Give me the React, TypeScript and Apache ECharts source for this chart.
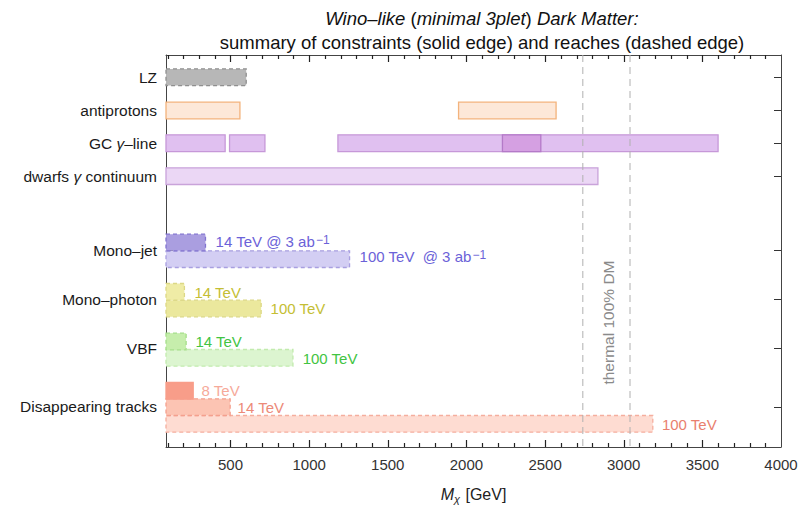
import React, { useEffect, useRef } from "react";
import * as echarts from "echarts";

const FONT = "'Liberation Sans', Arial, sans-serif";
const X_MIN = 90;
const X_MAX = 4000;
const Y_MAX = 12;
const BAR_H = 0.51;

const rowNames = [
  "LZ",
  "antiprotons",
  "GC {i|γ}–line",
  "dwarfs {i|γ} continuum",
  "Mono–jet",
  "Mono–photon",
  "VBF",
  "Disappearing tracks",
];
const rowPositions = [0.68, 1.7, 2.7, 3.71, 5.99, 7.47, 8.98, 10.77];

const majorTicks = [500, 1000, 1500, 2000, 2500, 3000, 3500, 4000];
const minorTicks: number[] = [];
for (let v = 100; v < X_MAX; v += 100) if (v % 500 !== 0) minorTicks.push(v);

const thermalLines = [2740, 3040];

// [start, end, y-level] in GeV
const lzBars = [[0, 600, 0.68]];
const antiprotonBars = [[0, 560, 1.7], [1950, 2570, 1.7]];
const gcLineBars = [[0, 466, 2.7], [494, 719, 2.7], [1183, 3600, 2.7]];
const gcLineOverlap = [[2229, 2473, 2.7]];
const dwarfBars = [[0, 2836, 3.71]];
const monoJet14 = [[0, 341, 5.74]];
const monoJet100 = [[0, 1257, 6.25]];
const monoPhoton14 = [[0, 207, 7.25]];
const monoPhoton100 = [[0, 695, 7.76]];
const vbf14 = [[0, 218, 8.77]];
const vbf100 = [[0, 897, 9.27]];
const dt8 = [[0, 263, 10.28]];
const dt14 = [[0, 498, 10.78]];
const dt100 = [[0, 3185, 11.29]];

type St = { fill: string; stroke: string; dash: boolean };
const groups: [number[][], St][] = [
  [lzBars, { fill: "#b7b7b7", stroke: "#8f8f8f", dash: true }],
  [antiprotonBars, { fill: "#fde8d8", stroke: "#f3b37c", dash: false }],
  [gcLineBars, { fill: "#e0c0f0", stroke: "#c698d8", dash: false }],
  [gcLineOverlap, { fill: "#d5a0e2", stroke: "#b47ac8", dash: false }],
  [dwarfBars, { fill: "#ebd7f5", stroke: "#c9a3da", dash: false }],
  [monoJet100, { fill: "#d3cef3", stroke: "#a89fe0", dash: true }],
  [monoJet14, { fill: "#aa9ee0", stroke: "#8274d0", dash: true }],
  [monoPhoton100, { fill: "#ebe89d", stroke: "#dcd886", dash: true }],
  [monoPhoton14, { fill: "#efeca6", stroke: "#dcd886", dash: true }],
  [vbf100, { fill: "#dcf5d0", stroke: "#c2ebae", dash: true }],
  [vbf14, { fill: "#c6eeac", stroke: "#a5de8a", dash: true }],
  [dt100, { fill: "#fedcd2", stroke: "#f5ae9e", dash: true }],
  [dt14, { fill: "#fcc4b3", stroke: "#f4a08e", dash: true }],
  [dt8, { fill: "#f89d89", stroke: "#f89d89", dash: false }],
];
const barItems: { value: number[]; st: St }[] = [];
groups.forEach(([arr, st]) => arr.forEach((v) => barItems.push({ value: v, st })));

// annotation text: [x (GeV), y-level, text, color]
const annotations: [number, number, string, string][] = [
  [405, 5.71, "14 TeV @ 3 ab{sup|−1}", "#6b62d8"],
  [1321, 6.17, "100 TeV  @ 3 ab{sup|−1}", "#6b62d8"],
  [271, 7.26, "14 TeV", "#c4be34"],
  [755, 7.77, "100 TeV", "#c4be34"],
  [277, 8.77, "14 TeV", "#42c442"],
  [959, 9.28, "100 TeV", "#42c442"],
  [316, 10.28, "8 TeV", "#f6aa9a"],
  [545, 10.79, "14 TeV", "#ec8a78"],
  [3243, 11.31, "100 TeV", "#e9806e"],
];
const thermalText = [2906, 8.19, "thermal 100% DM"];

// frame tick marks: [value, length in px]
const xTickItems: number[][] = [
  ...majorTicks.filter((v) => v < X_MAX).map((v) => [v, 7]),
  ...minorTicks.map((v) => [v, 4]),
];

const edgeTicks = (atTop: boolean) => ({
  type: "custom",
  xAxisIndex: 0,
  yAxisIndex: 0,
  z: 3,
  data: xTickItems.map((t) => [t[0]]),
  renderItem: (params: any, api: any) => {
    const len = xTickItems[params.dataIndex][1];
    const a = api.coord([api.value(0), atTop ? 0 : Y_MAX]);
    const x = Math.round(a[0]) + 0.5;
    return {
      type: "line",
      shape: { x1: x, y1: a[1], x2: x, y2: atTop ? a[1] + len : a[1] - len },
      style: { stroke: "#222", lineWidth: 1.2 },
    };
  },
});

export default function App() {
  const ref = useRef<HTMLDivElement>(null);
  useEffect(() => {
    if (!ref.current) return;
    const chart = echarts.init(ref.current, undefined, { renderer: "svg" });
    const axisColor = "#444";
    const xBase = (pos: "top" | "bottom", labels: boolean) => ({
      type: "value",
      min: X_MIN,
      max: X_MAX,
      position: pos,
      gridIndex: 0,
      axisLine: { show: true, onZero: false, lineStyle: { color: axisColor, width: 1 } },
      axisTick: { show: false },
      axisLabel: labels
        ? {
            show: true,
            customValues: majorTicks,
            fontSize: 15,
            color: "#333",
            fontFamily: FONT,
            margin: 10,
            formatter: (v: number) => String(Math.round(v)),
          }
        : { show: false },
      splitLine: { show: false },
    });
    const yBase = (pos: "left" | "right", labels: boolean) => ({
      type: "value",
      min: 0,
      max: Y_MAX,
      inverse: true,
      position: pos,
      axisLine: { show: true, onZero: false, lineStyle: { color: axisColor, width: 1 } },
      axisTick: { show: true, inside: true, length: 7, customValues: rowPositions, lineStyle: { color: "#333" } },
      axisLabel: labels
        ? {
            show: true,
            customValues: rowPositions,
            fontSize: 15.5,
            color: "#1a1a1a",
            fontFamily: FONT,
            margin: 9,
            formatter: (v: number) => {
              const i = rowPositions.findIndex((p) => Math.abs(p - v) < 1e-6);
              return i >= 0 ? rowNames[i] : "";
            },
            rich: { i: { fontStyle: "italic", fontSize: 15.5, color: "#1a1a1a", fontFamily: FONT } },
          }
        : { show: false },
      splitLine: { show: false },
    });
    const xMain: any = xBase("bottom", true);
    xMain.name = "{i|M}{s|χ} [GeV]";
    xMain.nameLocation = "middle";
    xMain.nameGap = 38;
    xMain.nameTextStyle = {
      fontSize: 16,
      color: "#222",
      fontFamily: FONT,
      rich: {
        i: { fontStyle: "italic", fontSize: 16, fontFamily: FONT, color: "#222" },
        s: { fontStyle: "italic", fontSize: 11, fontFamily: FONT, color: "#222", padding: [8, 1, 0, 0] },
      },
    };
    chart.setOption({
      animation: false,
      backgroundColor: "#fff",
      title: {
        left: 477,
        top: 1,
        textAlign: "center",
        text:
          "{i|Wino–like} {n|(}{i|minimal 3plet}{n|)} {i|Dark Matter:}\n{n|summary of constraints (solid edge) and reaches (dashed edge)}",
        textStyle: {
          fontFamily: FONT,
          fontSize: 18.5,
          fontWeight: "normal",
          color: "#111",
          lineHeight: 24,
          rich: {
            i: { fontStyle: "italic", fontSize: 18.5, fontFamily: FONT, color: "#111", lineHeight: 24 },
            n: { fontSize: 18.5, fontFamily: FONT, color: "#111", lineHeight: 24 },
          },
        },
      },
      grid: { left: 166, right: 21, top: 55, bottom: 57, containLabel: false },
      xAxis: [xMain, xBase("top", false)],
      yAxis: [yBase("left", true), yBase("right", false)],
      series: [
        {
          type: "custom",
          xAxisIndex: 0,
          yAxisIndex: 0,
          z: 2,
          data: barItems.map((b) => b.value),
          renderItem: (params: any, api: any) => {
            const st = barItems[params.dataIndex].st;
            const y = api.value(2);
            const p0 = api.coord([api.value(0), y]);
            const p1 = api.coord([api.value(1), y]);
            const h = Math.abs(api.size([0, BAR_H])[1]);
            const cs = params.coordSys;
            const x0 = Math.max(p0[0], cs.x);
            return {
              type: "rect",
              shape: { x: x0, y: p0[1] - h / 2, width: p1[0] - x0, height: h },
              style: {
                fill: st.fill,
                stroke: st.stroke,
                lineWidth: 1.3,
                lineDash: st.dash ? [4, 3] : null,
              },
            };
          },
        },
        {
          type: "custom",
          xAxisIndex: 0,
          yAxisIndex: 0,
          z: 3,
          data: thermalLines.map((x) => [x]),
          renderItem: (params: any, api: any) => {
            const a = api.coord([api.value(0), 0]);
            const b = api.coord([api.value(0), Y_MAX]);
            return {
              type: "line",
              shape: { x1: a[0], y1: a[1], x2: b[0], y2: b[1] },
              style: { stroke: "#b0b0b0", lineWidth: 1, lineDash: [7, 5] },
            };
          },
        },
        edgeTicks(true),
        edgeTicks(false),
        {
          type: "custom",
          xAxisIndex: 0,
          yAxisIndex: 0,
          z: 4,
          data: annotations.map((a) => [a[0], a[1]]),
          renderItem: (params: any, api: any) => {
            const a = annotations[params.dataIndex];
            const p = api.coord([api.value(0), api.value(1)]);
            return {
              type: "text",
              x: p[0],
              y: p[1],
              style: {
                text: a[2],
                fill: a[3],
                fontSize: 15,
                fontFamily: FONT,
                align: "left",
                verticalAlign: "middle",
                rich: {
                  sup: { fontSize: 12, fontFamily: FONT, fill: a[3], verticalAlign: "top", padding: [0, 0, 0, 1] },
                },
              },
            };
          },
        },
        {
          type: "custom",
          xAxisIndex: 0,
          yAxisIndex: 0,
          z: 4,
          data: [[thermalText[0], thermalText[1]]],
          renderItem: (params: any, api: any) => {
            const p = api.coord([api.value(0), api.value(1)]);
            return {
              type: "text",
              x: p[0],
              y: p[1],
              rotation: Math.PI / 2,
              style: {
                text: thermalText[2] as string,
                fill: "#8a8a8a",
                fontSize: 15.5,
                fontFamily: FONT,
                align: "center",
                verticalAlign: "middle",
              },
            };
          },
        },
      ],
    });
    return () => chart.dispose();
  }, []);
  return (
    <div
      ref={ref}
      style={{ position: "fixed", left: 0, top: 0, width: 802, height: 509, background: "#fff" }}
    />
  );
}
